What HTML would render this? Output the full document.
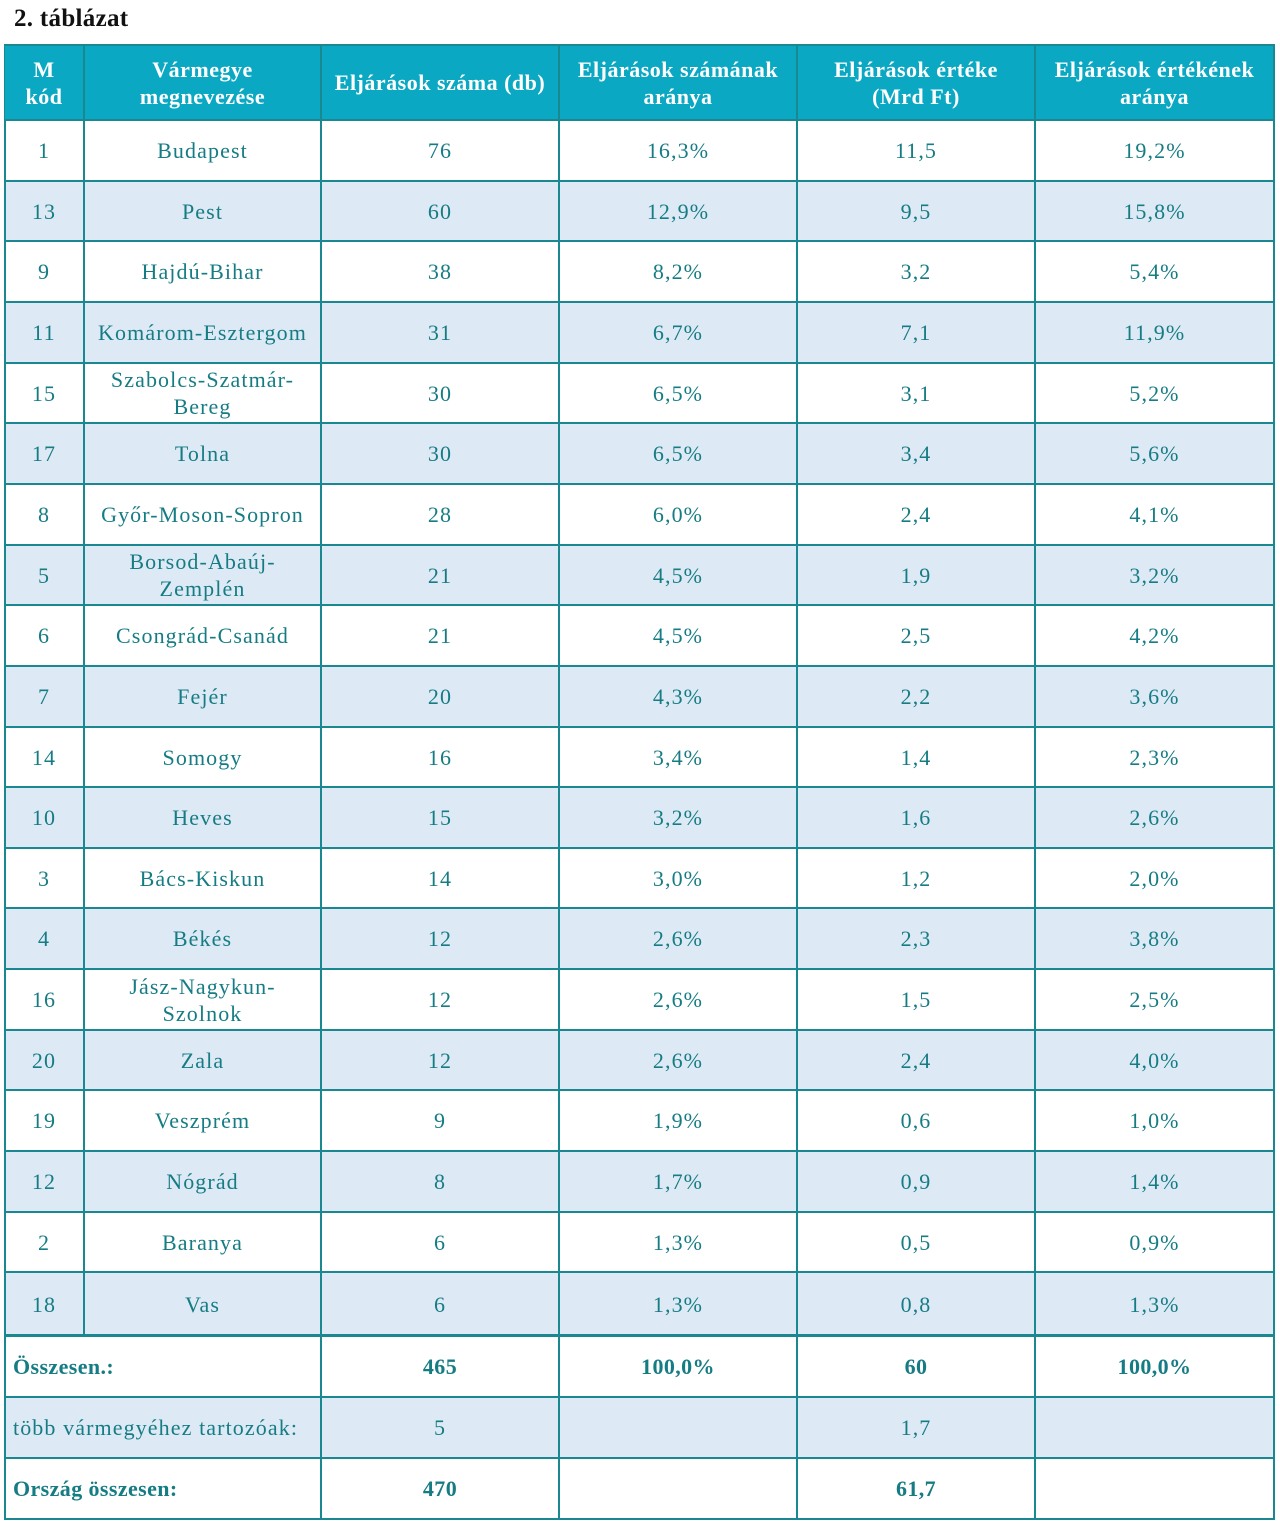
<!DOCTYPE html>
<html><head><meta charset="utf-8"><style>
body{margin:0;width:1280px;height:1527px;background:#fff;position:relative;font-family:"Liberation Serif",serif;}
.t{position:absolute;left:14px;top:5px;font-size:25px;font-weight:bold;color:#111;letter-spacing:0.3px;}
.c{position:absolute;box-sizing:border-box;display:flex;align-items:center;justify-content:center;text-align:center;color:#167c84;font-size:22px;line-height:27px;letter-spacing:1.1px;border-right:2px solid #1a8890;border-bottom:2px solid #1a8890;}
.h{background:#0ba8c3;color:#fff;font-weight:bold;letter-spacing:0.5px;}
.l{justify-content:flex-start;padding-left:8px;}
.b{font-weight:bold;letter-spacing:0.4px;}
</style></head><body>
<div class="t">2. táblázat</div>
<div style="position:absolute;left:4px;top:44px;width:1271px;height:1476px;border-left:2px solid #1a8890;border-top:2px solid #1a8890;box-sizing:border-box"></div>
<div id="g"></div>
<script>
var X=[5,85,322,560,798,1036,1275];
var g=document.getElementById('g'),h='';
function cell(x1,x2,y1,y2,txt,cls){h+='<div class="c '+(cls||'')+'" style="left:'+x1+'px;top:'+y1+'px;width:'+(x2-x1)+'px;height:'+(y2-y1)+'px">'+txt+'</div>';}
var hd=['M<br>kód','Vármegye<br>megnevezése','Eljárások száma (db)','Eljárások számának<br>aránya','Eljárások értéke<br>(Mrd Ft)','Eljárások értékének<br>aránya'];
for(var i=0;i<6;i++)cell(X[i],X[i+1],46,121,hd[i],'h');
var d=[[1,'Budapest',76,'16,3%','11,5','19,2%'],[13,'Pest',60,'12,9%','9,5','15,8%'],[9,'Hajdú-Bihar',38,'8,2%','3,2','5,4%'],[11,'Komárom-Esztergom',31,'6,7%','7,1','11,9%'],[15,'Szabolcs-Szatmár-<br>Bereg',30,'6,5%','3,1','5,2%'],[17,'Tolna',30,'6,5%','3,4','5,6%'],[8,'Győr-Moson-Sopron',28,'6,0%','2,4','4,1%'],[5,'Borsod-Abaúj-<br>Zemplén',21,'4,5%','1,9','3,2%'],[6,'Csongrád-Csanád',21,'4,5%','2,5','4,2%'],[7,'Fejér',20,'4,3%','2,2','3,6%'],[14,'Somogy',16,'3,4%','1,4','2,3%'],[10,'Heves',15,'3,2%','1,6','2,6%'],[3,'Bács-Kiskun',14,'3,0%','1,2','2,0%'],[4,'Békés',12,'2,6%','2,3','3,8%'],[16,'Jász-Nagykun-<br>Szolnok',12,'2,6%','1,5','2,5%'],[20,'Zala',12,'2,6%','2,4','4,0%'],[19,'Veszprém',9,'1,9%','0,6','1,0%'],[12,'Nógrád',8,'1,7%','0,9','1,4%'],[2,'Baranya',6,'1,3%','0,5','0,9%'],[18,'Vas',6,'1,3%','0,8','1,3%']];
for(var r=0;r<20;r++){var y1=Math.round(121+r*60.65),y2=Math.round(121+(r+1)*60.65);if(r==19)y2=1337;
 for(var i=0;i<6;i++){cell(X[i],X[i+1],y1,y2,d[r][i],'');}
 h+='<div style="position:absolute;left:6px;top:'+y1+'px;width:1267px;height:'+(y2-y1-2)+'px;background:'+(r%2?'#ddeaf5':'#fff')+';z-index:-1"></div>';}
h+='<div style="position:absolute;left:4px;top:1334px;width:1271px;height:3px;background:#1a8890"></div>';
var s=[['Összesen.:','465','100,0%','60','100,0%',1],['több vármegyéhez tartozóak:','5','','1,7','',0],['Ország összesen:','470','','61,7','',1]];
for(var r=0;r<3;r++){var y1=1337+r*61,y2=y1+61;
 h+='<div style="position:absolute;left:6px;top:'+y1+'px;width:1267px;height:59px;background:'+(r==1?'#ddeaf5':'#fff')+';z-index:-1"></div>';
 var b=s[r][5]?'b':'';
 cell(X[0],X[2],y1,y2,s[r][0],'l '+b);
 for(var i=2;i<6;i++)cell(X[i],X[i+1],y1,y2,s[r][i-1],b);}
g.innerHTML=h;
</script>
</body></html>
